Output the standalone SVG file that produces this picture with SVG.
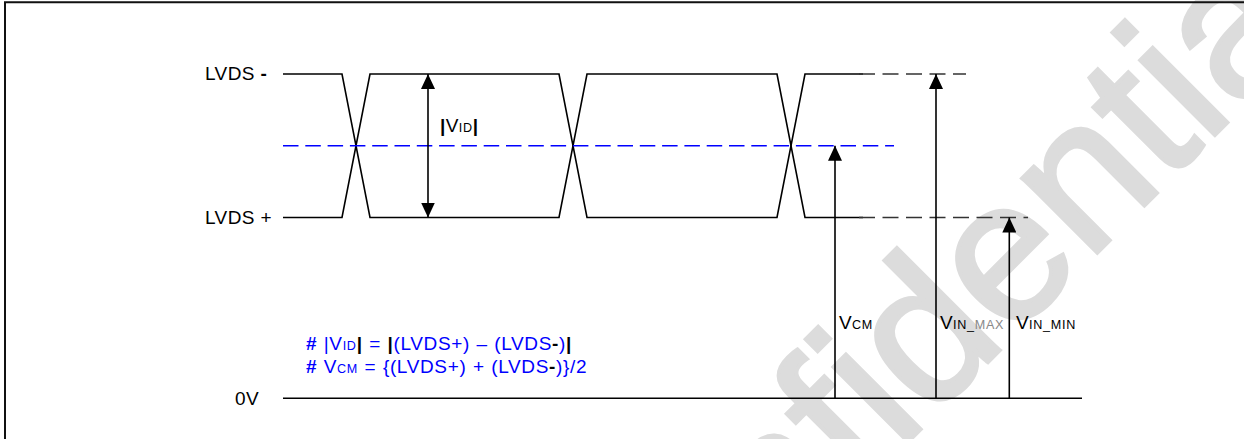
<svg xmlns="http://www.w3.org/2000/svg" width="1244" height="439" viewBox="0 0 1244 439">
<style>
.t{font-family:"Liberation Sans",Arial,sans-serif;font-size:19px;fill:#000;letter-spacing:0.4px}
.f{letter-spacing:0.65px;word-spacing:0.6px}
.sub{font-size:12.6px;letter-spacing:0.7px}
.blue{fill:#0000ff}
.bk{fill:#000;font-weight:bold}
.sig{fill:none;stroke:#000;stroke-width:1.6}
.ref{fill:none;stroke:#333;stroke-width:1.4;stroke-dasharray:16 7.5}
.mid{fill:none;stroke:#0000ff;stroke-width:1.6;stroke-dasharray:15.5 6.8}
.arr{fill:none;stroke:#000;stroke-width:1.6}
.wm{font-family:"Liberation Sans",Arial,sans-serif;font-size:200px;fill:#dcdcdc;stroke:#dcdcdc;stroke-width:4}
</style>
<defs>
<marker id="ah" viewBox="0 0 15 14" refX="15" refY="7" markerWidth="15" markerHeight="14" markerUnits="userSpaceOnUse" orient="auto-start-reverse">
<path d="M0,0 L15,7 L0,14 z" fill="#000"/>
</marker>
</defs>
<rect width="1244" height="439" fill="#fff"/>
<text class="wm" x="600" y="750" transform="rotate(-45 600 750)">Confidential</text>
<path d="M5,445 V2.3 H1250" fill="none" stroke="#111" stroke-width="2"/>

<g id="signal-lvds-minus">
<polyline class="sig" points="283,74 342,74 370,217.5 559,217.5 587,74 777,74 805,217.5 863,217.5"/>
</g>
<g id="signal-lvds-plus">
<polyline class="sig" points="283,217.5 342,217.5 370,74 559,74 587,217.5 777,217.5 805,74 863,74"/>
</g>
<g id="common-mode-line">
<line class="mid" x1="283" y1="145.7" x2="894" y2="145.7"/>
</g>
<g id="reference-lines">
<line class="ref" x1="859" y1="74" x2="966" y2="74"/>
<line class="ref" x1="859" y1="217.5" x2="1028" y2="217.5"/>
<line class="sig" x1="283" y1="398.3" x2="1082" y2="398.3"/>
</g>

<g id="connectors">
<line class="arr" x1="428" y1="74" x2="428" y2="217.5" marker-start="url(#ah)" marker-end="url(#ah)"/>
<line class="arr" x1="835" y1="398.3" x2="835" y2="145.7" marker-end="url(#ah)"/>
<line class="arr" x1="936" y1="398.3" x2="936" y2="74" marker-end="url(#ah)"/>
<line class="arr" x1="1009.3" y1="398.3" x2="1009.3" y2="217.5" marker-end="url(#ah)"/>
</g>

<g id="label-lvds-minus"><text class="t" x="205" y="79.5">LVDS <tspan class="bk">-</tspan></text></g>
<g id="label-lvds-plus"><text class="t" x="205" y="224">LVDS +</text></g>
<g id="label-0v"><text class="t" x="235" y="405">0V</text></g>
<g id="label-vid"><text class="t" x="440" y="131.5"><tspan class="bk">|</tspan>V<tspan class="sub">ID</tspan><tspan class="bk">|</tspan></text></g>
<g id="label-vcm"><text class="t" x="839" y="329">V<tspan class="sub">CM</tspan></text></g>
<g id="label-vinmax"><text class="t" x="940" y="329">V<tspan class="sub">IN_</tspan><tspan class="sub" fill="#888">MAX</tspan></text></g>
<g id="label-vinmin"><text class="t" x="1016" y="329">V<tspan class="sub">IN_MIN</tspan></text></g>

<g id="formulas">
<text class="t f blue" x="306" y="349.5"><tspan font-weight="bold"># </tspan>|V<tspan class="sub">ID</tspan><tspan class="bk">|</tspan> = <tspan class="bk">|</tspan>(LVDS+) – (LVDS<tspan class="bk">-</tspan>)<tspan class="bk">|</tspan></text>
<text class="t f blue" x="306" y="373"><tspan font-weight="bold"># </tspan>V<tspan class="sub">CM</tspan> = {(LVDS+) + (LVDS<tspan class="bk">-</tspan>)}/2</text>
</g>
</svg>
